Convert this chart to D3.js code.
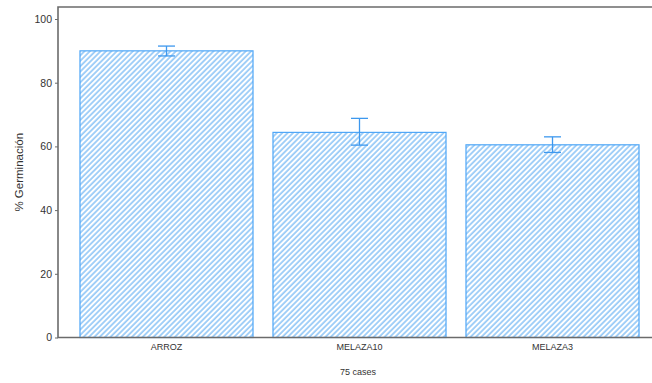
<!DOCTYPE html>
<html>
<head>
<meta charset="utf-8">
<script src="https://cdn.jsdelivr.net/npm/d3@7"></script>
<style>
  body { margin: 0; background: #fff; }
  text { font-family: "Liberation Sans", Arial, sans-serif; }
</style>
</head>
<body>
<div id="chart"></div>
<script>
var categories = ["ARROZ", "MELAZA10", "MELAZA3"];
var means = [90.0, 64.4, 60.5];
var errLow = [88.4, 60.4, 58.1];
var errHigh = [91.5, 68.8, 63.0];
var yTicks = [0, 20, 40, 60, 80, 100];

var W = 652, H = 383;
var plotLeft = 58, plotTop = 7, plotBottom = 337.5;

var svg = d3.select("#chart").append("svg")
  .attr("width", W)
  .attr("height", H);

// hatch pattern
var defs = svg.append("defs");
var pat = defs.append("pattern")
  .attr("id", "hatch")
  .attr("patternUnits", "userSpaceOnUse")
  .attr("width", 3.8)
  .attr("height", 3.8)
  .attr("patternTransform", "rotate(45)");
pat.append("line")
  .attr("x1", 1).attr("y1", 0)
  .attr("x2", 1).attr("y2", 3.8)
  .attr("stroke", "#7fbdf5")
  .attr("stroke-width", 1.4);

var x = d3.scaleBand()
  .domain(categories)
  .range([70, 649])
  .paddingInner(0.1035)
  .paddingOuter(0.0517);

var y = d3.scaleLinear()
  .domain([0, 100])
  .range([plotBottom, 19]);

// bars
svg.selectAll(".bar")
  .data(categories)
  .enter()
  .append("rect")
  .attr("class", "bar")
  .attr("x", function(d) { return x(d); })
  .attr("y", function(d, i) { return y(means[i]); })
  .attr("width", x.bandwidth())
  .attr("height", function(d, i) { return y(0) - y(means[i]); })
  .attr("fill", "url(#hatch)")
  .attr("stroke", "#4ea6f7")
  .attr("stroke-width", 1.2);

// error bars
var eb = svg.selectAll(".err")
  .data(categories)
  .enter()
  .append("g")
  .attr("class", "err")
  .attr("stroke", "#3d98ee")
  .attr("stroke-width", 1.3);
eb.append("line")
  .attr("x1", function(d) { return x(d) + x.bandwidth() / 2; })
  .attr("x2", function(d) { return x(d) + x.bandwidth() / 2; })
  .attr("y1", function(d, i) { return y(errLow[i]); })
  .attr("y2", function(d, i) { return y(errHigh[i]); });
eb.append("line")
  .attr("x1", function(d) { return x(d) + x.bandwidth() / 2 - 8.5; })
  .attr("x2", function(d) { return x(d) + x.bandwidth() / 2 + 8.5; })
  .attr("y1", function(d, i) { return y(errLow[i]); })
  .attr("y2", function(d, i) { return y(errLow[i]); });
eb.append("line")
  .attr("x1", function(d) { return x(d) + x.bandwidth() / 2 - 8.5; })
  .attr("x2", function(d) { return x(d) + x.bandwidth() / 2 + 8.5; })
  .attr("y1", function(d, i) { return y(errHigh[i]); })
  .attr("y2", function(d, i) { return y(errHigh[i]); });

// frame: top, left, bottom
svg.append("path")
  .attr("d", "M" + W + "," + plotTop + "H" + plotLeft + "V" + plotBottom + "H" + W)
  .attr("fill", "none")
  .attr("stroke", "#6b6b6b")
  .attr("stroke-width", 1.6);

// y axis
var yAxis = svg.append("g")
  .attr("transform", "translate(" + plotLeft + ",0)")
  .call(d3.axisLeft(y).tickValues(yTicks).tickSize(3).tickPadding(3));
yAxis.select(".domain").remove();
yAxis.selectAll(".tick line").attr("stroke", "#6b6b6b");
yAxis.selectAll(".tick text")
  .attr("fill", "#333")
  .style("font-size", "10.5px");

// x axis labels
var xAxis = svg.append("g")
  .attr("transform", "translate(0," + plotBottom + ")")
  .call(d3.axisBottom(x).tickSize(0).tickPadding(6));
xAxis.select(".domain").remove();
xAxis.selectAll(".tick text")
  .attr("fill", "#333")
  .style("font-size", "9px");

// axis titles
svg.append("text")
  .attr("transform", "translate(23," + (plotTop + plotBottom) / 2 + ") rotate(-90)")
  .attr("text-anchor", "middle")
  .attr("fill", "#333")
  .style("font-size", "11.5px")
  .text("% Germinación");

svg.append("text")
  .attr("x", 358)
  .attr("y", 375)
  .attr("text-anchor", "middle")
  .attr("fill", "#333")
  .style("font-size", "9px")
  .text("75 cases");
</script>
</body>
</html>
